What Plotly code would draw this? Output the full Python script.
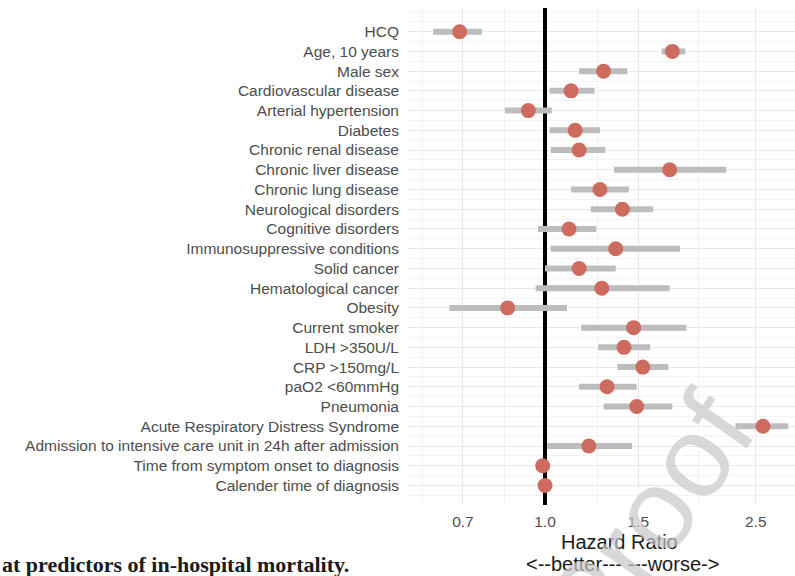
import plotly.graph_objects as go

labels = ["HCQ", "Age, 10 years", "Male sex", "Cardiovascular disease",
          "Arterial hypertension", "Diabetes", "Chronic renal disease",
          "Chronic liver disease", "Chronic lung disease", "Neurological disorders",
          "Cognitive disorders", "Immunosuppressive conditions", "Solid cancer",
          "Hematological cancer", "Obesity", "Current smoker", "LDH >350U/L",
          "CRP >150mg/L", "paO2 <60mmHg", "Pneumonia",
          "Acute Respiratory Distress Syndrome",
          "Admission to intensive care unit in 24h after admission",
          "Time from symptom onset to diagnosis", "Calender time of diagnosis"]
hr = [0.69, 1.74, 1.29, 1.12, 0.93, 1.14, 1.16, 1.72, 1.27, 1.40, 1.11, 1.36,
      1.16, 1.28, 0.85, 1.47, 1.41, 1.53, 1.31, 1.49, 2.58, 1.21, 0.99, 1.00]
ci_low = [0.615, 1.66, 1.16, 1.02, 0.84, 1.02, 1.025, 1.35, 1.12, 1.22, 0.97, 1.025,
          1.00, 0.96, 0.66, 1.17, 1.26, 1.37, 1.16, 1.29, 2.29, 1.01, 0.985, 0.99]
ci_high = [0.76, 1.84, 1.43, 1.24, 1.03, 1.27, 1.30, 2.20, 1.44, 1.60, 1.25, 1.80,
           1.36, 1.72, 1.10, 1.85, 1.58, 1.71, 1.49, 1.74, 2.88, 1.46, 0.995, 1.01]
reference_hr = 1.0
x_ticks = [0.7, 1.0, 1.5, 2.5]
x_ticktext = ["0.7", "1.0", "1.5", "2.5"]
x_minor = [0.586, 0.840, 1.254, 1.945]

n = len(labels)
ypos = [n - i for i in range(n)]
y_range = [0.01, 25.2]

ci_x, ci_y = [], []
for lo, hi, y in zip(ci_low, ci_high, ypos):
    ci_x += [lo, hi, None]
    ci_y += [y, y, None]

fig = go.Figure()
# reference line at HR = 1
fig.add_trace(go.Scatter(x=[reference_hr, reference_hr], y=y_range, mode="lines",
                         line=dict(color="black", width=4),
                         hoverinfo="skip", showlegend=False))
fig.add_trace(go.Scatter(x=ci_x, y=ci_y, mode="lines",
                         line=dict(color="#bdbdbd", width=6),
                         hoverinfo="skip", showlegend=False))
fig.add_trace(go.Scatter(x=hr, y=ypos, mode="markers",
                         marker=dict(color="rgb(205,108,94)", size=15, line=dict(width=0)),
                         text=labels, showlegend=False))

SANS = "Liberation Sans, Arial, sans-serif"
fig.update_layout(
    width=795, height=576,
    margin=dict(l=407, r=0, t=8, b=71),
    paper_bgcolor="white", plot_bgcolor="white",
    font=dict(family=SANS, color="#4d4d4d"),
    xaxis=dict(type="log", range=[-0.2606, 0.4721],
               tickvals=x_ticks, ticktext=x_ticktext,
               tickfont=dict(size=15.5, color="#4d4d4d"),
               showgrid=True, gridcolor="#e8e8e8", gridwidth=1,
               zeroline=False, showline=False, ticks="",
               ticklabelstandoff=5,
               minor=dict(tickvals=x_minor, showgrid=True,
                          gridcolor="#f3f3f3", gridwidth=1, ticks="")),
    yaxis=dict(range=y_range, tickvals=ypos, ticktext=labels,
               tickfont=dict(size=15.5, color="#4d4d4d"),
               showgrid=True, gridcolor="#e8e8e8", gridwidth=1,
               zeroline=False, showline=False, ticks="",
               ticklabelstandoff=7,
               minor=dict(tickvals=[0] + [k + 0.5 for k in range(0, 25)] + [25],
                          showgrid=True, gridcolor="#f3f3f3", gridwidth=1, ticks="")),
)

fig.add_annotation(text="Hazard Ratio", xref="paper", yref="paper",
                   x=0.548, y=-0.0744, xanchor="center", yanchor="middle",
                   showarrow=False, font=dict(family=SANS, size=20, color="#1a1a1a"))
fig.add_annotation(text="<--better--- ---worse->", xref="paper", yref="paper",
                   x=0.555, y=-0.1187, xanchor="center", yanchor="middle",
                   showarrow=False, font=dict(family=SANS, size=20, color="#1a1a1a"))
fig.add_annotation(text="<b>at predictors of in-hospital mortality.</b>",
                   xref="paper", yref="paper", x=-1.049, y=-0.119,
                   xanchor="left", yanchor="middle", showarrow=False,
                   font=dict(family="Liberation Serif, Times New Roman, serif",
                             size=22, color="#1a1a1a"))
fig.add_annotation(text="Proof", xref="paper", yref="paper",
                   x=0.62, y=-0.03, xanchor="center", yanchor="middle",
                   textangle=-55, showarrow=False,
                   font=dict(family=SANS, size=115, color="rgba(200,200,200,0.7)"))

fig.write_html("out.html", config={"displayModeBar": False},
               post_script="document.body.style.margin='0';")
